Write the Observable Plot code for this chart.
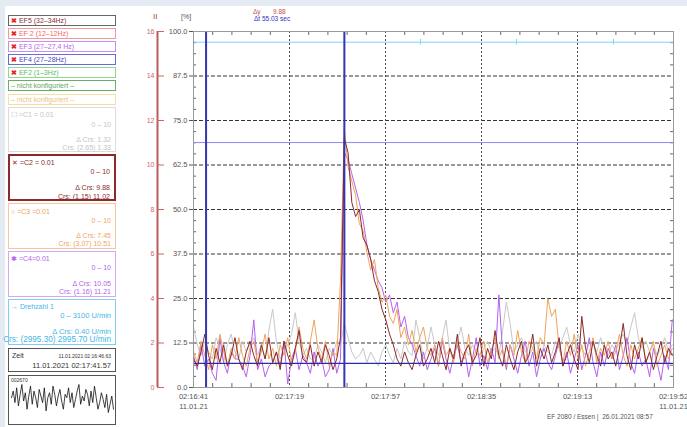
<!DOCTYPE html>
<html><head><meta charset="utf-8">
<script src="https://cdn.jsdelivr.net/npm/d3@7"></script>
<script src="https://cdn.jsdelivr.net/npm/@observablehq/plot@0.6"></script>
<style>
html,body{margin:0;padding:0;width:687px;height:427px;overflow:hidden;background:#fff;}
body{position:relative;font-family:"Liberation Sans",Arial,sans-serif;}
#topband{position:absolute;left:0;top:0;width:687px;height:6px;background:#e4ebf2;}
#leftband{position:absolute;left:0;top:0;width:5px;height:427px;background:#e4ebf2;}
#chart{position:absolute;left:0;top:0;}
.t{position:absolute;white-space:nowrap;font-size:7px;line-height:8px;}
.r{right:4px;text-align:right;}
.box{position:absolute;left:8px;width:108px;box-sizing:border-box;border:1px solid;background:#fff;}
.hb{height:11px;font-size:7px;line-height:9px;padding-left:2px;white-space:nowrap;}
.x{color:#e02828;font-weight:bold;}
#wave{position:absolute;left:1px;top:7px;}
</style></head>
<body>
<div id="topband"></div><div id="leftband"></div>
<div id="chart"></div>

<div class="box hb" style="top:15px;border-color:#666;color:#8b3030"><span class="x">✖</span> EF5 (32–34Hz)</div>
<div class="box hb" style="top:28px;border-color:#f29a9a;color:#f06a6a"><span class="x">✖</span> EF 2 (12–12Hz)</div>
<div class="box hb" style="top:41px;border-color:#c890ee;color:#b565ea"><span class="x">✖</span> EF3 (27–27,4 Hz)</div>
<div class="box hb" style="top:54px;border-color:#6a6ad8;color:#4848c8"><span class="x">✖</span> EF4 (27–28Hz)</div>
<div class="box hb" style="top:67px;border-color:#8ed88e;color:#5cbc5c"><span class="x">✖</span> EF2 (1–3Hz)</div>
<div class="box hb" style="top:80px;border-color:#6aae6a;color:#5aaa5a">– nicht konfiguriert –</div>
<div class="box hb" style="top:94px;border-color:#f6dfa6;color:#f0c27a">– nicht konfiguriert –</div>

<div class="box" style="top:107px;height:45px;border-color:#dcdcdc;color:#c4c4c4">
 <div class="t" style="left:2px;top:3px">☐ =C1 = 0.01</div>
 <div class="t r" style="top:13px">0 – 10</div>
 <div class="t r" style="top:28px">Δ Crs: 1.32</div>
 <div class="t r" style="top:36px">Crs: (2.65) 1.33</div>
</div>
<div class="box" style="top:154px;height:47px;border:2px solid #8b2a2a;color:#8b2a2a">
 <div class="t" style="left:2px;top:3px">✕ =C2 = 0.01</div>
 <div class="t r" style="top:12px">0 – 10</div>
 <div class="t r" style="top:28px">Δ Crs: 9.88</div>
 <div class="t r" style="top:37px">Crs: (1.15) 11.02</div>
</div>
<div class="box" style="top:203px;height:46px;border-color:#f7c79a;color:#f2a35e">
 <div class="t" style="left:2px;top:4px">○ =C3 =0.01</div>
 <div class="t r" style="top:13px">0 – 10</div>
 <div class="t r" style="top:28px">Δ Crs: 7.45</div>
 <div class="t r" style="top:36px">Crs: (3.07) 10.51</div>
</div>
<div class="box" style="top:251px;height:46px;border-color:#d6a8f2;color:#b162ee">
 <div class="t" style="left:2px;top:3px">✱ =C4=0.01</div>
 <div class="t r" style="top:12px">0 – 10</div>
 <div class="t r" style="top:28px">Δ Crs: 10.05</div>
 <div class="t r" style="top:36px">Crs: (1.16) 11.21</div>
</div>
<div class="box" style="top:299px;height:46px;border-color:#7fd0f0;color:#3fb6e6">
 <div class="t" style="left:2px;top:3px">→ Drehzahl 1</div>
 <div class="t r" style="top:12px;font-size:7.5px">0 – 3100 U/min</div>
 <div class="t r" style="top:28px;font-size:7.5px">Δ Crs: 0.40 U/min</div>
 <div class="t r" style="top:36px;font-size:8.2px">Crs: (2995.30) 2995.70 U/min</div>
</div>
<div class="box" style="top:348px;height:24px;border-color:#555;color:#333">
 <div class="t" style="left:3px;top:3px">Zeit</div>
 <div class="t r" style="top:3px;font-size:5px">11.01.2021 02:16:46.63</div>
 <div class="t r" style="top:13px;font-size:7.5px">11.01.2021 02:17:41.57</div>
</div>
<div class="box" style="top:375px;height:50px;border-color:#555;color:#333">
 <div class="t" style="left:2px;top:1px;font-size:5px;line-height:6px">002670</div>
 <div id="wave"></div>
</div>

<div class="t" style="left:153px;top:13px;font-size:8px;color:#a04040">II</div>
<div class="t" style="left:181px;top:13px;font-size:7px;color:#555">[%]</div>
<div class="t" style="left:253px;top:8px;font-size:6.5px;color:#c05050">Δy</div>
<div class="t" style="left:273px;top:8px;font-size:6.5px;color:#c05050">9.88</div>
<div class="t" style="left:254px;top:15px;font-size:6.5px;color:#3030c0">Δt 55.03 sec</div>
<div class="t" style="left:547px;top:413px;font-size:6.5px;color:#555">EF 2080 / Essen |&nbsp; 26.01.2021 08:57</div>

<script>
const step = 1.5; // seconds between samples
// C1 (grey)
const c1 = [17,12,9,13,10,8,14,11,7,12,15,10,8,13,10,12,
 14,9,12,8,16,22,13,8,10,12,15,21,13,9,11,8,
 8,12,10,7,11,9,13,12,18,14,10,8,9,11,7,10,
 8,6,10,12,9,7,11,8,13,10,9,19,14,8,11,17,
 12,9,14,19,10,8,13,17,11,9,12,10,8,11,13,10,
 11,9,16,24,18,10,12,14,10,9,11,13,8,12,10,9,
 13,11,14,17,12,10,15,11,9,13,12,10,14,11,9,12,
 10,13,15,12,17,21,14,11,13,10,12,9,11,14,10,12];
// C2 (dark red)
const c2 = [8,6,10,15,9,5,11,7,12,6,9,14,8,5,10,13,
 9,6,12,8,14,7,10,5,13,9,6,11,16,8,7,12,
 6,10,7,12,9,5,8,14,70,66,52,48,50,42,40,36,
 30,27,22,19,15,12,8,6,10,7,5,9,12,6,8,11,
 7,13,9,5,11,8,15,6,10,12,7,9,14,6,11,8,
 16,9,6,12,8,5,10,13,7,9,15,6,11,8,12,7,
 10,14,6,9,12,8,5,20,11,7,13,9,6,12,8,10,
 6,11,18,9,5,12,8,14,7,10,5,9,13,7,11,9];
// C3 (orange)
const c3 = [10,7,13,9,5,12,8,15,10,6,11,8,14,9,6,11,
 13,7,10,15,8,11,6,12,9,14,7,10,17,11,8,13,
 19,11,8,13,6,10,9,30,73,62,58,54,46,44,38,33,
 36,28,24,26,20,18,22,14,17,12,16,10,14,17,11,9,
 12,6,14,9,11,7,13,10,8,15,6,11,9,13,7,10,
 14,8,11,6,12,9,16,10,7,13,11,8,14,12,25,20,
 22,11,7,13,9,15,8,12,6,10,14,7,11,9,13,8,
 10,15,9,6,12,8,11,14,7,10,13,6,9,12,8,11];
// C4 (violet)
const c4 = [9,5,12,6,8,4,2,14,7,4,10,8,8,6,3,9,
 19,5,8,3,6,7,10,6,13,1,8,11,5,9,7,4,
 10,6,8,3,5,11,4,8,66,64,60,56,52,47,40,36,
 33,30,28,24,26,21,24,17,20,14,12,9,6,10,5,8,
 11,6,13,8,4,9,12,7,10,3,8,14,6,9,5,11,
 7,26,10,5,12,8,4,9,13,6,10,3,8,11,7,5,
 9,13,6,10,4,8,12,5,9,14,7,3,10,6,11,8,
 12,5,9,14,7,4,10,6,8,3,11,7,2,9,5,19];
const xTickSecs = [0, 38.2, 76.4, 114.6, 152.8, 191];
const xTickLabels = ["02:16:41\n11.01.21", "02:17:19", "02:17:57", "02:18:35", "02:19:13", "02:19:52\n11.01.21"];
const yTicks = [0, 12.5, 25, 37.5, 50, 62.5, 75, 87.5, 100];
const rightTicks = [0, 2, 4, 6, 8, 10, 12, 14, 16];
const cursorSecs = [5.0, 60.03];
const cyanLevel = [97];
const cyanMarks = [90.3, 128.5, 167.1];
const violetLevel = [68.8];
const blueLevel = [6.8];
const waveform = [0.1,0.5,-0.2,0.7,-0.4,0.3,0.9,-0.1,0.4,-0.6,0.2,0.8,-0.3,0.5,0.1,-0.5,0.6,0.2,-0.2,0.7,-0.7,0.1,0.4,-0.3,0.8,0.3,-0.4,0.2,0.6,-0.1,-0.6,0.3,0.1,0.7,-0.2,0.4,-0.5,0.0,0.5,0.9,-0.3,0.2,-0.1,0.6,0.3,-0.4,0.5,-0.2,0.8,0.1,-0.6,-0.2,0.4,0.0,-0.5,0.3,-0.8,-0.3,0.2,-0.6];

const rows = vals => vals.map((v, i) => ({t: i * step, v}));
const minorY = d3.range(0, 100.01, 3.125).filter(v => Math.abs(v / 12.5 - Math.round(v / 12.5)) > 1e-6);
const minorX = d3.range(0, 191.01, 38.2 / 5).filter((v, i) => i % 5 !== 0);
const red = "#c0504d";

const chart = Plot.plot({
  width: 687, height: 427,
  marginLeft: 193, marginRight: 14, marginTop: 31, marginBottom: 40,
  x: {domain: [0, 191], axis: null},
  y: {domain: [0, 100], axis: null},
  style: {background: "transparent", overflow: "visible", fontFamily: "Liberation Sans, Arial, sans-serif"},
  marks: [
    Plot.ruleY(yTicks.filter(v => v > 0 && v < 100), {stroke: "#333", strokeDasharray: "4,2"}),
    Plot.ruleX(xTickSecs.slice(1, -1), {stroke: "#444", strokeDasharray: "2,2"}),
    Plot.ruleY(minorY, {x1: 0, x2: 1.2, stroke: "#666"}),
    Plot.ruleY(minorY, {x1: 189.8, x2: 191, stroke: "#666"}),
    Plot.ruleX(minorX, {y1: 98.9, y2: 100, stroke: "#666"}),
    Plot.ruleX(minorX, {y1: 0, y2: 1.1, stroke: "#666"}),
    Plot.ruleY(cyanLevel, {stroke: "#7fd3f2"}),
    Plot.ruleX(cyanMarks, {y1: 96.2, y2: 97.8, stroke: "#7fd3f2"}),
    Plot.ruleY(violetLevel, {stroke: "#8a8af0"}),
    Plot.line(rows(c1), {x: "t", y: "v", stroke: "#c8c8c8", strokeWidth: 1}),
    Plot.line(rows(c4), {x: "t", y: "v", stroke: "#b462f0", strokeWidth: 1}),
    Plot.line(rows(c3), {x: "t", y: "v", stroke: "#f2a35a", strokeWidth: 1}),
    Plot.line(rows(c2), {x: "t", y: "v", stroke: "#8b2a2a", strokeWidth: 1}),
    Plot.ruleY(blueLevel, {stroke: "#2b2ba8", strokeWidth: 1.3}),
    Plot.ruleX(cursorSecs, {stroke: "#3434b4", strokeWidth: 2}),
    Plot.frame({stroke: "#999"}),
    Plot.axisY(yTicks, {anchor: "left", tickSize: 4, tickPadding: 2, tickFormat: d => d.toFixed(1), fontSize: 7.5, color: "#555", label: null}),
    Plot.ruleX([0], {dx: -36, stroke: "#b85c5c", strokeWidth: 2}),
    Plot.axisY(rightTicks.map(v => v * 100 / 16), {anchor: "left", dx: -29, tickSize: 7, tickPadding: 3, tickFormat: d => String(Math.round(d * 16 / 100)), fontSize: 7, color: "#cc6666", label: null}),
    Plot.text(xTickSecs, {x: d => d, y: 0, text: (d, i) => xTickLabels[i], lineAnchor: "top", dy: 4, lineHeight: 1.35, fontSize: 7.5, fill: "#555"})
  ]
});
document.getElementById("chart").append(chart);

const wave = Plot.plot({
  width: 104, height: 30, margin: 1,
  x: {axis: null}, y: {axis: null},
  style: {background: "transparent"},
  marks: [Plot.line(waveform, {x: (d, i) => i, y: d => d, stroke: "#111", strokeWidth: 0.8})]
});
document.getElementById("wave").append(wave);
</script>
</body></html>
